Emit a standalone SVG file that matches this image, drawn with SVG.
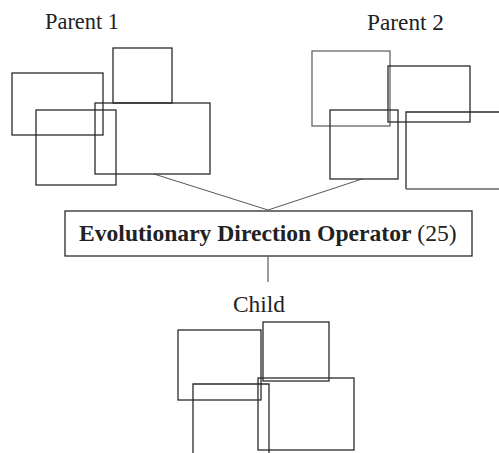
<svg xmlns="http://www.w3.org/2000/svg" width="499" height="453" viewBox="0 0 499 453">
<style>
.r{fill:none;stroke:#2a2a2a;stroke-width:1.3}
.g{fill:none;stroke:#666;stroke-width:1.3}
.c{fill:none;stroke:#444;stroke-width:0.9}
.lbl{font-family:"Liberation Serif","Times New Roman",serif;font-size:24px;fill:#222}
.op{font-family:"Liberation Serif","Times New Roman",serif;font-size:23.6px;fill:#222}
</style>
<rect width="499" height="453" fill="#fff"/>
<g id="parent1">
<text class="lbl" x="45" y="29" textLength="74" lengthAdjust="spacingAndGlyphs">Parent 1</text>
<rect class="r" x="12" y="73" width="91" height="62"/>
<rect class="r" x="113" y="48" width="59" height="55"/>
<rect class="r" x="36" y="110" width="80" height="75"/>
<rect class="r" x="95" y="103" width="115" height="71"/>
</g>
<g id="parent2">
<text class="lbl" x="367" y="30" textLength="77" lengthAdjust="spacingAndGlyphs">Parent 2</text>
<rect class="g" x="312" y="51" width="78" height="75"/>
<rect class="r" x="388" y="66" width="82" height="56"/>
<rect class="r" x="330" y="110" width="68" height="69"/>
<path class="r" d="M499 112H406V189"/>
<path class="g" d="M406 189H499"/>
</g>
<g id="operator">
<rect class="r" x="65" y="211" width="407" height="45" fill="#fff"/>
<text class="op" x="79" y="241"><tspan font-weight="bold">Evolutionary Direction Operator</tspan> (25)</text>
</g>
<g id="child">
<text class="lbl" x="233" y="312" textLength="52" lengthAdjust="spacingAndGlyphs">Child</text>
<rect class="r" x="178" y="330" width="83" height="70"/>
<rect class="r" x="263" y="322" width="66" height="59"/>
<path class="r" d="M193 453V384H269V453"/>
<rect class="r" x="258" y="378" width="96" height="72"/>
</g>
<g id="connectors">
<path class="c" d="M154 174L268 210L362 179"/>
<path class="g" d="M268 256V282"/>
</g>
</svg>
